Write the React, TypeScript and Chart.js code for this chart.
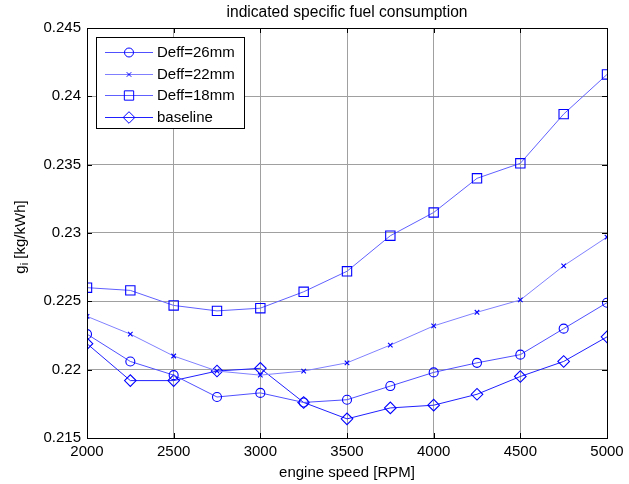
import React, { useEffect, useRef } from "react";
import { Chart, registerables } from "chart.js";

Chart.register(...registerables);

const rpm = [2000, 2250, 2500, 2750, 3000, 3250, 3500, 3750, 4000, 4250, 4500, 4750, 5000];
const deff26 = [0.2226, 0.2206, 0.2196, 0.218, 0.2183, 0.2176, 0.2178, 0.2188, 0.2198, 0.2205, 0.2211, 0.223, 0.2249];
const deff22 = [0.2239, 0.2226, 0.221, 0.2199, 0.2196, 0.2199, 0.2205, 0.2218, 0.2232, 0.2242, 0.2251, 0.2276, 0.2297];
const deff18 = [0.226, 0.2258, 0.2247, 0.2243, 0.2245, 0.2257, 0.2272, 0.2298, 0.2315, 0.234, 0.2351, 0.2387, 0.2416];
const baseline = [0.2219, 0.2192, 0.2192, 0.2199, 0.2201, 0.2176, 0.2164, 0.2172, 0.2174, 0.2182, 0.2195, 0.2206, 0.2224];

const xTicks = [2000, 2500, 3000, 3500, 4000, 4500, 5000];
const yTicks = [0.215, 0.22, 0.225, 0.23, 0.235, 0.24, 0.245];
const yTickLabels = ["0.215", "0.22", "0.225", "0.23", "0.235", "0.24", "0.245"];

const seriesNames = ["Deff=26mm", "Deff=22mm", "Deff=18mm", "baseline"];
const titleText = "indicated specific fuel consumption";
const xTitle = "engine speed [RPM]";

const FONT = '"Liberation Sans", Arial, sans-serif';
const MARKER = "#0000ff";

const styles = [
  { line: "#5050ff", point: "circle", radius: 4.5 },
  { line: "#8080ff", point: "crossRot", radius: 3.2 },
  { line: "#6060ff", point: "rect", radius: 6.6 },
  { line: "#2020ff", point: "rectRot", radius: 5.8 },
];

function toPoints(vals: number[]) {
  return rpm.map((x, i) => ({ x, y: vals[i] }));
}

function drawMarker(ctx: CanvasRenderingContext2D, kind: string, x: number, y: number, r: number) {
  ctx.beginPath();
  if (kind === "circle") {
    ctx.arc(x, y, r, 0, Math.PI * 2);
  } else if (kind === "crossRot") {
    const o = r * Math.SQRT1_2;
    ctx.moveTo(x - o, y - o);
    ctx.lineTo(x + o, y + o);
    ctx.moveTo(x + o, y - o);
    ctx.lineTo(x - o, y + o);
  } else if (kind === "rect") {
    const s = r * Math.SQRT1_2;
    ctx.rect(x - s, y - s, 2 * s, 2 * s);
  } else if (kind === "rectRot") {
    ctx.moveTo(x - r, y);
    ctx.lineTo(x, y - r);
    ctx.lineTo(x + r, y);
    ctx.lineTo(x, y + r);
    ctx.closePath();
  }
  ctx.stroke();
}

const decorPlugin = {
  id: "decor",
  afterDraw(chart: any) {
    const { ctx, chartArea, scales } = chart;
    const { left, right, top, bottom } = chartArea;
    const xs = scales.x;
    const ys = scales.y;
    ctx.save();
    ctx.strokeStyle = "#000";
    ctx.lineWidth = 1;
    // frame
    ctx.strokeRect(Math.round(left) + 0.5, Math.round(top) + 0.5, Math.round(right - left), Math.round(bottom - top));
    // inward ticks
    ctx.beginPath();
    xTicks.forEach((v) => {
      const px = Math.round(xs.getPixelForValue(v)) + 0.5;
      ctx.moveTo(px, bottom);
      ctx.lineTo(px, bottom - 5);
      ctx.moveTo(px, top);
      ctx.lineTo(px, top + 5);
    });
    yTicks.forEach((v) => {
      const py = Math.round(ys.getPixelForValue(v)) + 0.5;
      ctx.moveTo(left, py);
      ctx.lineTo(left + 5, py);
      ctx.moveTo(right, py);
      ctx.lineTo(right - 5, py);
    });
    ctx.stroke();

    ctx.fillStyle = "#000";
    // title
    ctx.font = `15.6px ${FONT}`;
    ctx.textAlign = "center";
    ctx.textBaseline = "middle";
    ctx.fillText(titleText, (left + right) / 2, 13);
    // x title
    ctx.font = `15px ${FONT}`;
    ctx.fillText(xTitle, (left + right) / 2, 473);
    // y title with subscript
    ctx.save();
    ctx.translate(20, 237);
    ctx.rotate(-Math.PI / 2);
    ctx.textAlign = "left";
    ctx.textBaseline = "alphabetic";
    ctx.font = `15px ${FONT}`;
    const wg = ctx.measureText("g").width;
    const rest = " [kg/kWh]";
    const wr = ctx.measureText(rest).width;
    ctx.font = `11px ${FONT}`;
    const wi = ctx.measureText("i").width;
    const total = wg + wi + wr;
    let cx = -total / 2;
    const base = 5;
    ctx.font = `15px ${FONT}`;
    ctx.fillText("g", cx, base);
    cx += wg;
    ctx.font = `11px ${FONT}`;
    ctx.fillText("i", cx, base + 3);
    cx += wi;
    ctx.font = `15px ${FONT}`;
    ctx.fillText(rest, cx, base);
    ctx.restore();

    // legend
    const lx = 96, ly = 37, lw = 148, lh = 91;
    ctx.fillStyle = "#fff";
    ctx.fillRect(lx, ly, lw, lh);
    ctx.strokeStyle = "#000";
    ctx.strokeRect(lx + 0.5, ly + 0.5, lw, lh);
    const rowY = [52, 73.5, 95, 116.5];
    seriesNames.forEach((name, i) => {
      const st = styles[i];
      const y = rowY[i];
      ctx.strokeStyle = st.line;
      ctx.lineWidth = 1;
      ctx.beginPath();
      ctx.moveTo(105, Math.round(y) + 0.5);
      ctx.lineTo(153, Math.round(y) + 0.5);
      ctx.stroke();
      ctx.strokeStyle = MARKER;
      drawMarker(ctx, st.point, 129, Math.round(y) + 0.5, st.radius);
      ctx.fillStyle = "#000";
      ctx.font = `15px ${FONT}`;
      ctx.textAlign = "left";
      ctx.textBaseline = "middle";
      ctx.fillText(name, 157, y + 1);
    });
    ctx.restore();
  },
};

export default function App() {
  const ref = useRef<HTMLCanvasElement>(null);
  useEffect(() => {
    const seriesVals = [deff26, deff22, deff18, baseline];
    const chart = new Chart(ref.current as HTMLCanvasElement, {
      type: "line",
      data: {
        datasets: seriesVals.map((vals, i) => ({
          label: seriesNames[i],
          data: toPoints(vals),
          borderColor: styles[i].line,
          borderWidth: 1,
          pointStyle: styles[i].point as any,
          pointRadius: styles[i].radius,
          pointBorderColor: MARKER,
          pointBackgroundColor: "rgba(0,0,0,0)",
          pointBorderWidth: 1.1,
          fill: false,
          tension: 0,
        })),
      },
      options: {
        responsive: false,
        animation: false,
        events: [],
        layout: { padding: { top: 28, right: 22, left: 0, bottom: 0 } },
        plugins: {
          legend: { display: false },
          title: { display: false },
          tooltip: { enabled: false },
        },
        scales: {
          x: {
            type: "linear",
            min: 2000,
            max: 5000,
            afterBuildTicks: (s: any) => {
              s.ticks = xTicks.map((v) => ({ value: v }));
            },
            afterFit: (s: any) => {
              s.height = 46;
            },
            grid: { color: "#a0a0a0", lineWidth: 1, drawTicks: false, tickLength: 0 },
            border: { display: false },
            ticks: {
              color: "#000",
              font: { family: FONT, size: 15 },
              padding: 5,
              maxRotation: 0,
              autoSkip: false,
              callback: (v: any) => String(v),
            },
          },
          y: {
            type: "linear",
            min: 0.215,
            max: 0.245,
            afterBuildTicks: (s: any) => {
              s.ticks = yTicks.map((v) => ({ value: v }));
            },
            afterFit: (s: any) => {
              s.width = 87;
            },
            grid: { color: "#a0a0a0", lineWidth: 1, drawTicks: false, tickLength: 0 },
            border: { display: false },
            ticks: {
              color: "#000",
              font: { family: FONT, size: 15 },
              padding: 6,
              autoSkip: false,
              callback: (v: any) => {
                const idx = yTicks.findIndex((t) => Math.abs(t - v) < 1e-9);
                return idx >= 0 ? yTickLabels[idx] : "";
              },
            },
          },
        },
      },
      plugins: [decorPlugin],
    });
    return () => chart.destroy();
  }, []);
  return (
    <div style={{ position: "absolute", left: 0, top: 0, width: 629, height: 484, background: "#fff" }}>
      <canvas ref={ref} width={629} height={484} style={{ display: "block", width: 629, height: 484 }} />
    </div>
  );
}
